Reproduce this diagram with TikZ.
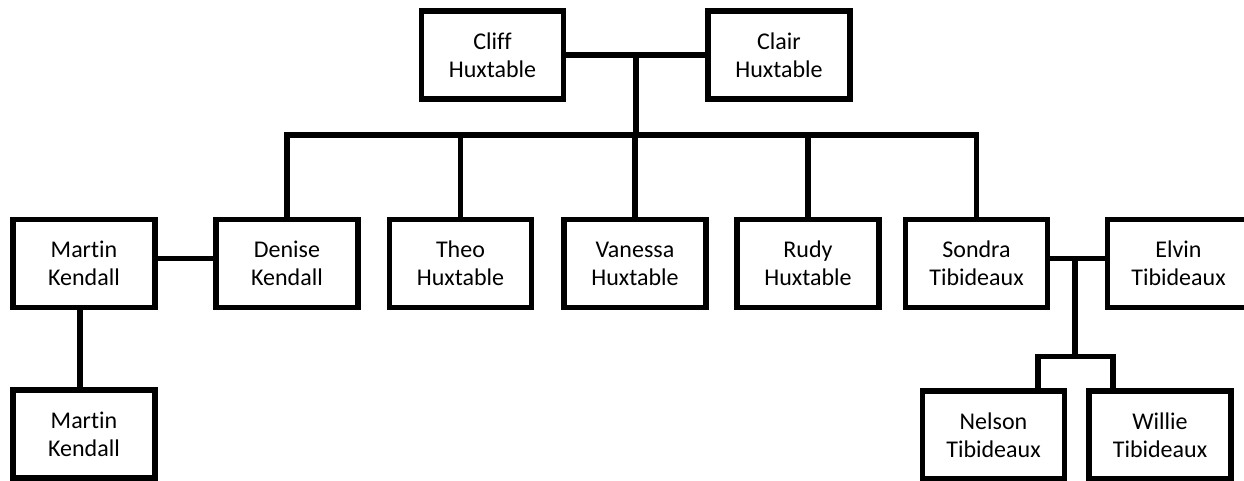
\documentclass[tikz,border=0pt]{standalone}
\usepackage{fontspec}
\setmainfont{Carlito}[RawFeature={-liga;-clig;-dlig}]
\begin{document}
\begin{tikzpicture}[x=1pt,y=-1pt,
  person/.style={draw, line width=5.5pt, minimum width=142pt, minimum height=88pt,
    align=center, inner sep=0pt, font=\fontsize{24}{28}\selectfont},
  link/.style={line width=5.5pt, line join=miter}]
\useasboundingbox (0,0) rectangle (1244,481);
\clip (0,0) rectangle (1244,481);
% parents
\node[person] (cliff) at (492.5,55) {Cliff\\Huxtable};
\node[person] (clair) at (779,55) {Clair\\Huxtable};
% children row
\node[person] (martin) at (84,263.5) {Martin\\Kendall};
\node[person] (denise) at (287,263.5) {Denise\\Kendall};
\node[person] (theo) at (460.5,263.5) {Theo\\Huxtable};
\node[person] (vanessa) at (635,263.5) {Vanessa\\Huxtable};
\node[person] (rudy) at (808,263.5) {Rudy\\Huxtable};
\node[person] (sondra) at (976.5,263.5) {Sondra\\Tibideaux};
\node[person] (elvin) at (1178.5,263.5) {Elvin\\Tibideaux};
% grandchildren
\node[person] (martin2) at (84,434) {Martin\\Kendall};
\node[person] (nelson) at (993.5,435) {Nelson\\Tibideaux};
\node[person] (willie) at (1160,435) {Willie\\Tibideaux};
% connectors
\coordinate (cpl) at (636,55);
\coordinate (bar) at (636,135);
\draw[link] (cliff.east) -- (clair.west);
\draw[link] (cpl) -- (bar);
\draw[link] (denise.north) -- (denise.north |- bar) -- (sondra.north |- bar) -- (sondra.north);
\draw[link] (theo.north |- bar) -- (theo.north);
\draw[link] (vanessa.north |- bar) -- (vanessa.north);
\draw[link] (rudy.north |- bar) -- (rudy.north);
\draw[link] ([yshift=5pt]martin.east) -- ([yshift=5pt]denise.west);
\draw[link] ([xshift=-4pt]martin.south) -- ([xshift=-4pt]martin2.north);
\coordinate (se) at (1075,258.5);
\coordinate (kids) at (1075,356.5);
\coordinate (nk) at (1038,356.5);
\coordinate (wk) at (1113,356.5);
\draw[link] ([yshift=5pt]sondra.east) -- ([yshift=5pt]elvin.west);
\draw[link] (se) -- (kids);
\draw[link] (nk |- nelson.north) -- (nk) -- (wk) -- (wk |- willie.north);
\end{tikzpicture}
\end{document}
